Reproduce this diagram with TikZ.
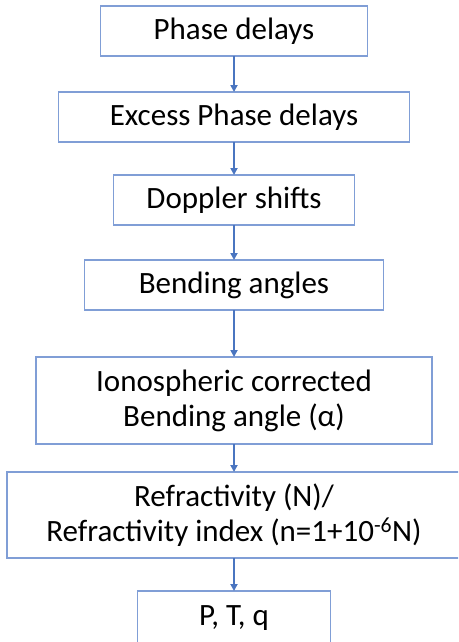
\documentclass[tikz,border=0pt]{standalone}
\usepackage{fontspec}
\setmainfont{Carlito}
\usepackage{tikz}
\usetikzlibrary{arrows.meta, positioning}

\definecolor{boxblue}{RGB}{128,158,214}
\definecolor{arrowblue}{RGB}{74,117,192}

\begin{document}
\begin{tikzpicture}[x=1pt, y=1pt, node distance=33pt,
	box/.style={draw=boxblue, line width=1.3pt, fill=white, minimum height=50pt, inner sep=0pt, outer sep=0pt, align=center, font=\fontsize{31}{35}\selectfont},
	flow/.style={-{Triangle[length=7pt, width=7pt]}, draw=arrowblue, line width=1.8pt}]
		\clip (0,0) rectangle (458,-642);
		\useasboundingbox (0,0) rectangle (458,-642);
		
		\node[box, minimum width=267pt] (phase) at (234,-31) {Phase delays};
		\node[box, minimum width=351pt, below = 36pt of phase] (excess) {Excess Phase delays};
		\node[box, minimum width=241pt, below = of excess] (doppler) {Doppler shifts};
		\node[box, minimum width=299pt, below = 35pt of doppler] (bending) {Bending angles};
		\node[box, minimum width=396pt, minimum height=87pt, below = 47pt of bending] (iono) {Ionospheric corrected\\Bending angle (α)};
		\node[box, minimum width=454pt, minimum height=86pt, below = 28pt of iono] (refr) {Refractivity (N)/\\Refractivity index (n=1+10\textsuperscript{-6}N)};
		\node[box, minimum width=193pt, minimum height=54pt, below = of refr] (ptq) {P, T, q};
		
		\draw[flow] (phase) to (excess);
		\draw[flow] (excess) to (doppler);
		\draw[flow] (doppler) to (bending);
		\draw[flow] (bending) to (iono);
		\draw[flow] (iono) to (refr);
		\draw[flow] (refr) to (ptq);
		
		\end{tikzpicture}
\end{document}
